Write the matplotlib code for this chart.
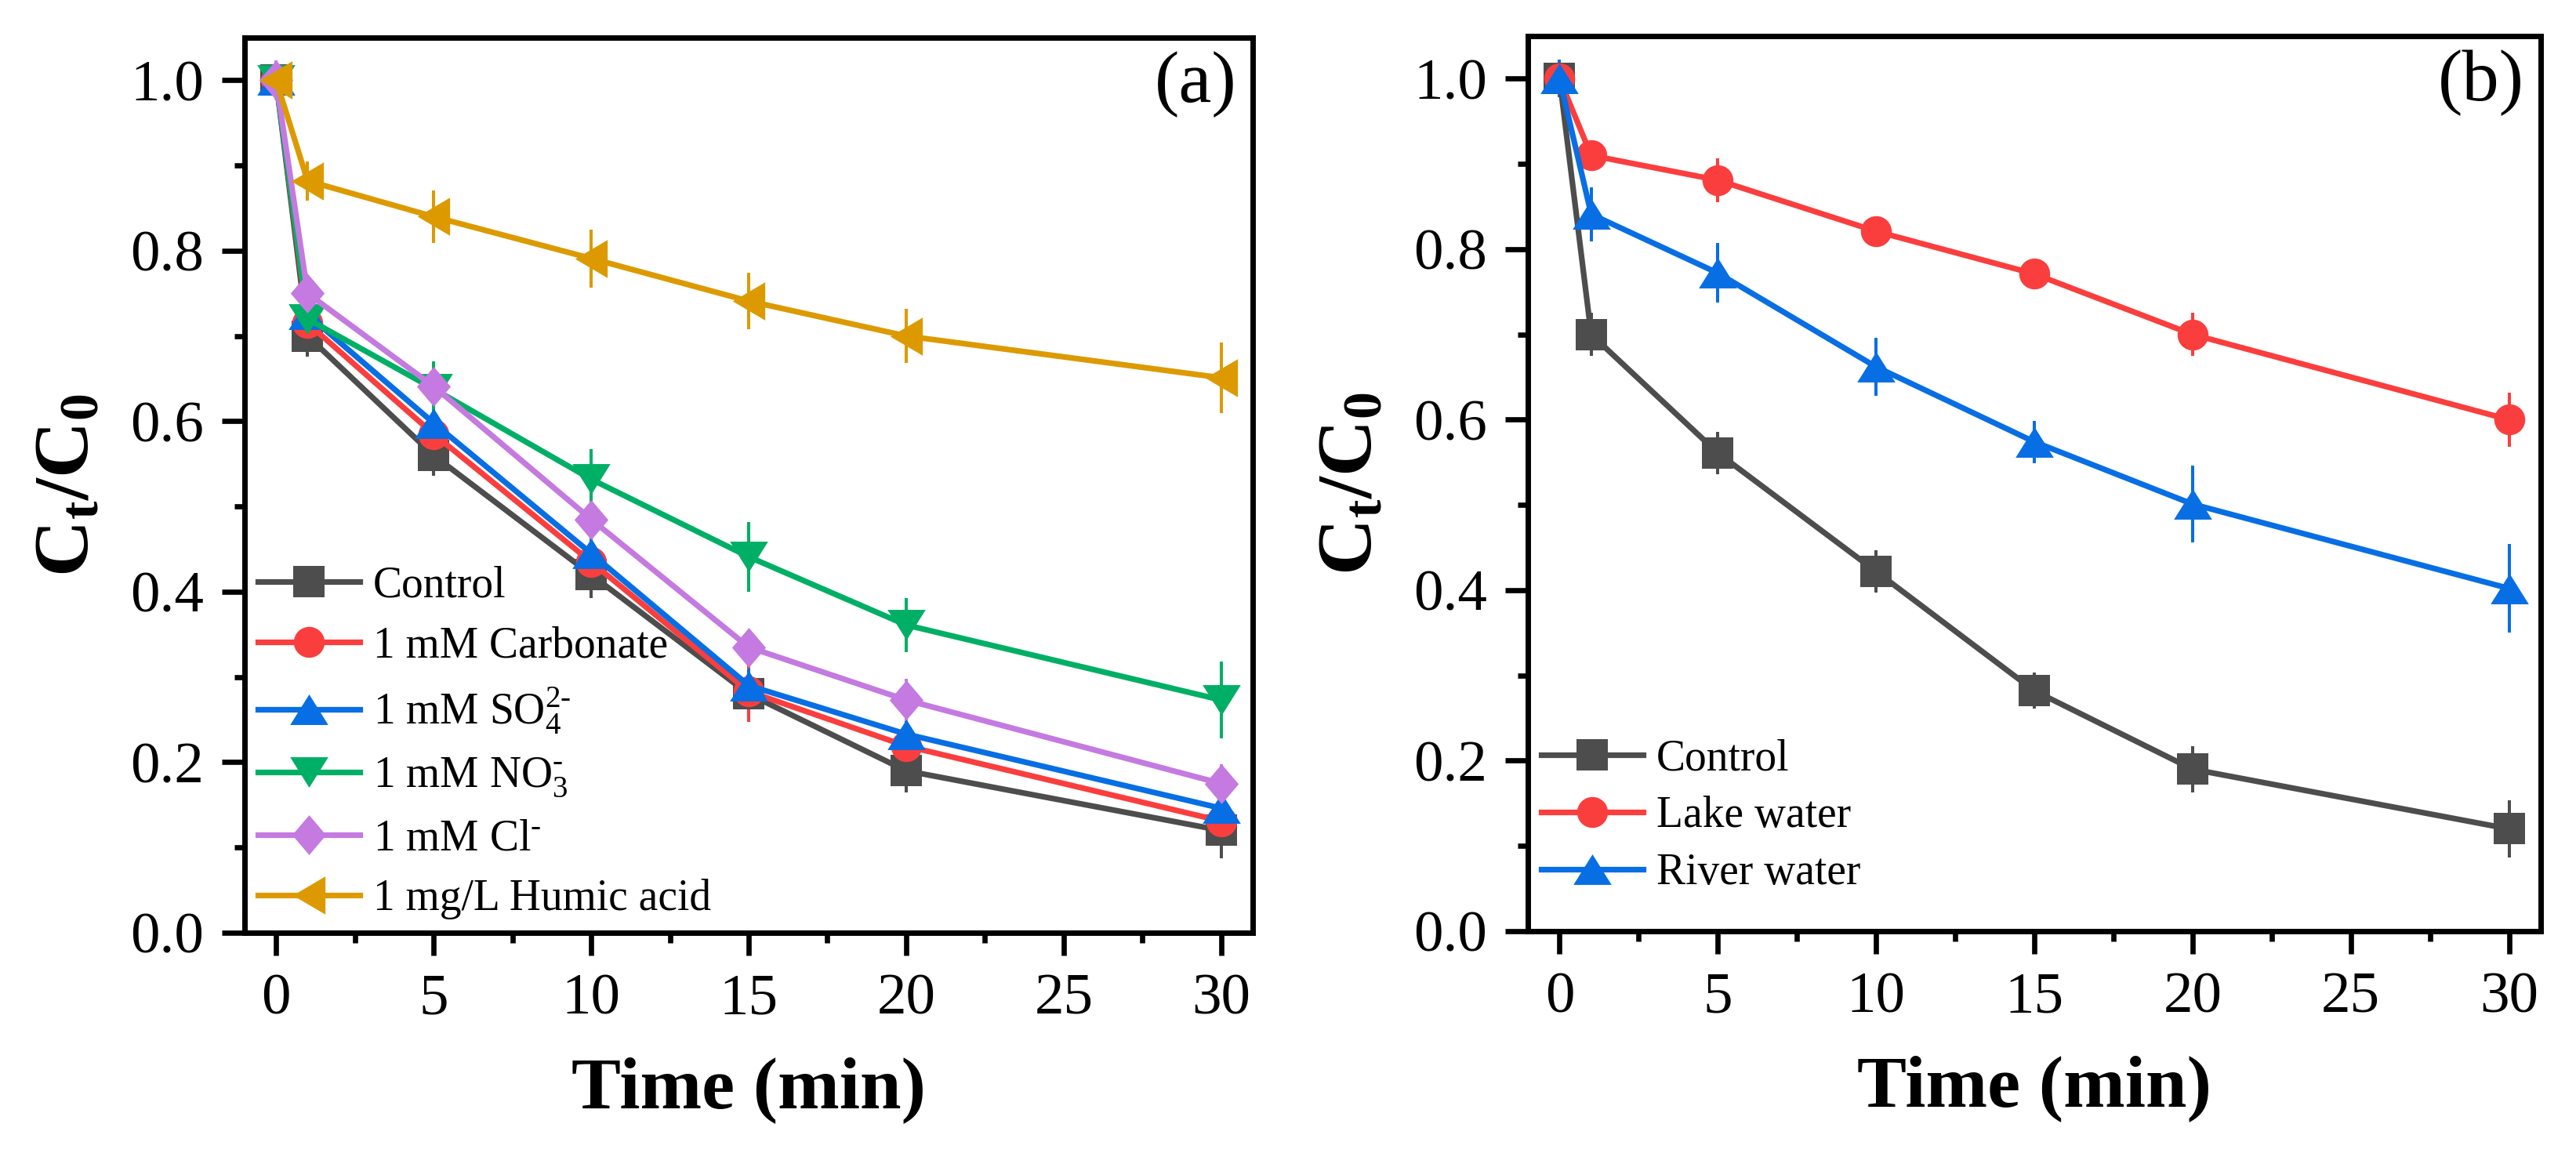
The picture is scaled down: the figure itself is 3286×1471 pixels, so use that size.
import matplotlib
matplotlib.use("Agg")
import matplotlib.pyplot as plt
from matplotlib.ticker import MultipleLocator
from matplotlib.legend_handler import HandlerErrorbar
from matplotlib.container import ErrorbarContainer

plt.rcParams['font.family'] = ['Liberation Serif', 'DejaVu Serif']
plt.rcParams['mathtext.fontset'] = 'custom'
plt.rcParams['mathtext.rm'] = 'Liberation Serif'
plt.rcParams['mathtext.it'] = 'Liberation Serif:italic'
plt.rcParams['mathtext.bf'] = 'Liberation Serif:bold'

# ---------------- data ----------------
time = [0, 1, 5, 10, 15, 20, 30]

# panel (a)
labels_a = ['Control', '1 mM Carbonate', r'1 mM SO$_4^{2\text{-}}$', r'1 mM NO$_3^{\text{-}}$',
            r'1 mM Cl$^{\text{-}}$', '1 mg/L Humic acid']
control_a = [1.00, 0.70, 0.56, 0.42, 0.28, 0.19, 0.12]
carbonate_a = [1.00, 0.715, 0.585, 0.435, 0.283, 0.219, 0.131]
so4_a = [1.00, 0.725, 0.598, 0.445, 0.29, 0.233, 0.146]
no3_a = [1.00, 0.72, 0.638, 0.532, 0.441, 0.361, 0.273]
cl_a = [1.00, 0.75, 0.641, 0.485, 0.335, 0.273, 0.175]
humic_a = [1.00, 0.882, 0.840, 0.791, 0.741, 0.700, 0.651]

control_a_err = [0.02, 0.024, 0.024, 0.027, 0.02, 0.025, 0.033]
carbonate_a_err = [0.02, 0.02, 0.025, 0.025, 0.036, 0.02, 0.02]
so4_a_err = [0.02, 0.025, 0.025, 0.02, 0.02, 0.02, 0.02]
no3_a_err = [0.02, 0.02, 0.032, 0.035, 0.041, 0.032, 0.045]
cl_a_err = [0.023, 0.02, 0.02, 0.02, 0.014, 0.025, 0.023]
humic_a_err = [0.02, 0.023, 0.031, 0.034, 0.033, 0.032, 0.041]

# panel (b)
labels_b = ['Control', 'Lake water', 'River water']
control_b = [1.00, 0.70, 0.561, 0.422, 0.282, 0.19, 0.12]
lake_b = [1.00, 0.91, 0.881, 0.821, 0.771, 0.70, 0.60]
river_b = [1.00, 0.841, 0.772, 0.662, 0.574, 0.501, 0.402]

control_b_err = [0.02, 0.025, 0.025, 0.025, 0.021, 0.027, 0.034]
lake_b_err = [0.02, 0.015, 0.026, 0.014, 0.014, 0.025, 0.032]
river_b_err = [0.022, 0.032, 0.035, 0.034, 0.025, 0.045, 0.052]

xticks = [0, 5, 10, 15, 20, 25, 30]
yticks = [0.0, 0.2, 0.4, 0.6, 0.8, 1.0]

# ---------------- styles ----------------
GRAY = '#4D4D4D'
RED = '#FA3E3E'
BLUE = '#086EE4'
GREEN = '#00AF66'
PURPLE = '#C47AE0'
GOLD = '#DC9A00'

diamond = [(0, 1), (0.85, 0), (0, -1), (-0.85, 0), (0, 1)]
tri_up = [(-1, -0.8), (1, -0.8), (0, 0.8), (-1, -0.8)]
tri_down = [(-1, 0.8), (1, 0.8), (0, -0.8), (-1, 0.8)]
tri_left = [(-0.85, 0), (0.85, 1), (0.85, -1), (-0.85, 0)]

styles_a = [
    dict(color=GRAY, marker='s', ms=14.5),
    dict(color=RED, marker='o', ms=14.2),
    dict(color=BLUE, marker=tri_up, ms=17.5),
    dict(color=GREEN, marker=tri_down, ms=17.5),
    dict(color=PURPLE, marker=diamond, ms=18.3),
    dict(color=GOLD, marker=tri_left, ms=17.5),
]
styles_b = [
    dict(color=GRAY, marker='s', ms=14.5),
    dict(color=RED, marker='o', ms=14.2),
    dict(color=BLUE, marker=tri_up, ms=17.5),
]

W, H = 3286, 1471
fig = plt.figure(figsize=(W / 200, H / 200), dpi=200)

ax_a = fig.add_axes([312 / W, 1 - 1190 / H, (1598 - 312) / W, (1190 - 48) / H])
ax_b = fig.add_axes([1949 / W, 1 - 1188 / H, (3241 - 1949) / W, (1188 - 46) / H])


def draw(ax, series, errs, labels, styles):
    for y, e, lab, st in zip(series, errs, labels, styles):
        ax.errorbar(time, y, yerr=e, color=st['color'], marker=st['marker'],
                    markersize=st['ms'], lw=2.6, elinewidth=1.45, capsize=6.2,
                    capthick=1.45, markeredgewidth=0, label=lab)


def style_axes(ax, tag):
    ax.set_xlim(-1, 31)
    ax.set_ylim(0, 1.05)
    ax.set_xticks(xticks)
    ax.set_yticks(yticks)
    ax.set_yticklabels([f'{v:.1f}' for v in yticks])
    ax.xaxis.set_minor_locator(MultipleLocator(2.5))
    ax.yaxis.set_minor_locator(MultipleLocator(0.1))
    for sp in ax.spines.values():
        sp.set_linewidth(2.5)
    ax.tick_params(which='major', direction='out', length=10.6, width=2.4,
                   labelsize=27, pad=8, top=False, right=False)
    ax.tick_params(which='minor', direction='out', length=4.8, width=2.4,
                   top=False, right=False)
    ax.set_xlabel('Time (min)', fontsize=34, fontweight='bold', labelpad=14)
    ax.set_ylabel(r'$\mathbf{C_t/C_0}$', fontsize=36, labelpad=12)
    ax.text(0.984, 0.985, tag, transform=ax.transAxes, ha='right', va='top',
            fontsize=34)


draw(ax_a, [control_a, carbonate_a, so4_a, no3_a, cl_a, humic_a],
     [control_a_err, carbonate_a_err, so4_a_err, no3_a_err, cl_a_err, humic_a_err],
     labels_a, styles_a)
draw(ax_b, [control_b, lake_b, river_b],
     [control_b_err, lake_b_err, river_b_err], labels_b, styles_b)

style_axes(ax_a, '(a)')
style_axes(ax_b, '(b)')

hmap = {ErrorbarContainer: HandlerErrorbar(xerr_size=0, yerr_size=0)}
ax_a.legend(loc='lower left', frameon=False, fontsize=20,
            handlelength=2.35, handletextpad=0.3, labelspacing=0.45,
            borderaxespad=0.1, borderpad=0.2, handler_map=hmap)
ax_b.legend(loc='lower left', frameon=False, fontsize=20,
            handlelength=2.35, handletextpad=0.3, labelspacing=0.38,
            borderaxespad=0.1, borderpad=0.2, bbox_to_anchor=(0.0, 0.027),
            handler_map=hmap)

fig.savefig('out.png', dpi=200)
